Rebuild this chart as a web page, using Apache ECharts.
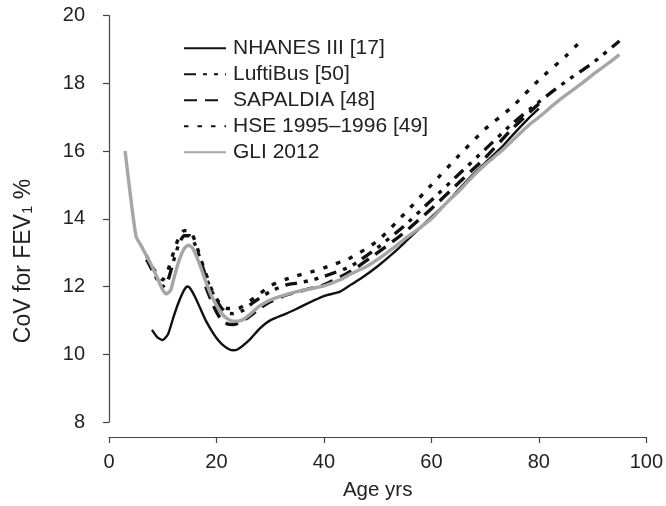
<!DOCTYPE html>
<html>
<head>
<meta charset="utf-8">
<script src="https://cdn.jsdelivr.net/npm/echarts@6/dist/echarts.min.js"></script>
<style>html,body{margin:0;padding:0;background:#fff}#c{width:666px;height:506px}</style>
</head>
<body>
<div id="c"></div>
<script>
var seriesNames = ['NHANES III [17]', 'LuftiBus [50]', 'SAPALDIA [48]', 'HSE 1995\u20131996 [49]', 'GLI 2012'];

var nhanesAges = [8, 9, 10, 11, 12, 13, 14, 14.6, 15, 16, 17, 18, 19, 20, 21, 22, 23, 24, 26, 28, 30, 33, 35, 38, 40, 43, 45, 47, 50, 53, 55, 58, 60, 63, 65, 68, 70, 73, 75, 78, 80];
var nhanesVals = [10.72, 10.5, 10.42, 10.6, 11.1, 11.55, 11.9, 12.0, 11.97, 11.7, 11.35, 11.0, 10.72, 10.48, 10.3, 10.18, 10.12, 10.15, 10.4, 10.75, 11.0, 11.2, 11.35, 11.58, 11.72, 11.85, 12.05, 12.25, 12.6, 13.0, 13.3, 13.75, 14.05, 14.5, 14.85, 15.35, 15.65, 16.1, 16.45, 16.95, 17.25];

var luftiAges = [7, 8, 9, 10, 11, 12, 13, 14, 15, 16, 17, 18, 19, 20, 21, 22, 23, 25, 27, 30, 33, 35, 38, 40, 45, 50, 55, 60, 65, 70, 75, 80, 85, 90, 95];
var luftiVals = [12.8, 12.5, 12.2, 12.0, 12.2, 12.75, 13.25, 13.5, 13.5, 13.25, 12.8, 12.3, 11.9, 11.6, 11.35, 11.22, 11.2, 11.3, 11.55, 11.85, 12.05, 12.1, 12.2, 12.3, 12.6, 13.15, 13.8, 14.55, 15.3, 16.05, 16.8, 17.45, 18.05, 18.6, 19.25];

var sapaldiaAges = [18, 19, 20, 21, 22, 23, 24, 26, 28, 30, 33, 36, 40, 45, 50, 55, 60, 65, 70, 75, 80];
var sapaldiaVals = [12.0, 11.6, 11.25, 11.0, 10.9, 10.88, 10.92, 11.1, 11.35, 11.55, 11.75, 11.88, 12.05, 12.45, 13.0, 13.6, 14.3, 15.05, 15.8, 16.65, 17.4];

var hseAges = [7, 8, 9, 10, 11, 12, 13, 14, 15, 16, 17, 18, 19, 20, 21, 22, 24, 26, 28, 30, 33, 35, 38, 40, 45, 50, 55, 60, 65, 70, 75, 80, 85, 87.5];
var hseVals = [12.9, 12.6, 12.35, 12.2, 12.5, 13.0, 13.45, 13.65, 13.65, 13.35, 12.85, 12.4, 11.95, 11.65, 11.42, 11.35, 11.35, 11.55, 11.78, 12.02, 12.22, 12.32, 12.45, 12.55, 12.85, 13.35, 14.15, 15.0, 15.85, 16.65, 17.3, 18.1, 18.8, 19.2];

var gliAges = [3, 5, 6, 7, 8, 9, 10, 10.7, 11.5, 12, 13, 14, 14.8, 15.5, 16, 17, 18, 19, 20, 21, 22, 23, 24, 25, 26, 28, 30, 32, 35, 38, 40, 43, 45, 48, 50, 53, 55, 58, 60, 63, 65, 68, 70, 73, 75, 78, 80, 83, 85, 88, 90, 93, 95];
var gliVals = [16.0, 13.5, 13.2, 12.9, 12.6, 12.25, 11.9, 11.78, 11.9, 12.2, 12.75, 13.12, 13.22, 13.15, 13.0, 12.6, 12.15, 11.75, 11.45, 11.2, 11.05, 10.98, 10.98, 11.03, 11.15, 11.42, 11.6, 11.72, 11.85, 11.95, 12.02, 12.2, 12.37, 12.6, 12.8, 13.15, 13.4, 13.75, 14.0, 14.5, 14.8, 15.3, 15.6, 16.0, 16.3, 16.75, 17.0, 17.4, 17.65, 18.0, 18.25, 18.6, 18.85];

var xTicks = [0, 20, 40, 60, 80, 100];
var yTicks = [8, 10, 12, 14, 16, 18, 20];

function pairs(a, v) { return a.map(function (x, i) { return [x, v[i]]; }); }

var FONT = '"Liberation Sans", Arial, sans-serif';
var chart = echarts.init(document.getElementById('c'), null, { renderer: 'canvas' });

function mk(name, data, color, width, type) {
  return {
    name: name, type: 'line', data: data, symbol: 'none', showSymbol: false,
    smooth: 0.2,
    lineStyle: { color: color, width: width, type: type, cap: 'butt', join: 'round' },
    itemStyle: { color: color },
    emphasis: { disabled: true }, animation: false, z: 2
  };
}

chart.setOption({
  animation: false,
  backgroundColor: '#fff',
  grid: { left: 109, right: 18, top: 15.6, bottom: 78, containLabel: false },
  xAxis: {
    type: 'value', min: xTicks[0], max: xTicks[xTicks.length - 1], interval: 20, offset: 15,
    name: 'Age yrs', nameLocation: 'middle', nameGap: 43,
    nameTextStyle: { fontFamily: FONT, fontSize: 20.5, color: '#222' },
    axisLine: { show: true, lineStyle: { color: '#444', width: 1.2 } },
    axisTick: { show: true, inside: false, length: 6, lineStyle: { color: '#444', width: 1.2 } },
    axisLabel: { fontFamily: FONT, fontSize: 20, color: '#222', margin: 15 },
    splitLine: { show: false }
  },
  yAxis: {
    type: 'value', min: yTicks[0], max: yTicks[yTicks.length - 1], interval: 2, offset: 15,
    axisLine: { show: true, lineStyle: { color: '#444', width: 1.2 } },
    axisTick: { show: true, inside: false, length: 6, lineStyle: { color: '#444', width: 1.2 } },
    axisLabel: { fontFamily: FONT, fontSize: 20, color: '#222', margin: 9 },
    splitLine: { show: false }
  },
  legend: {
    orient: 'vertical', left: 183, top: 35.3, padding: 0,
    itemWidth: 42, itemHeight: 14, itemGap: 0,
    data: seriesNames,
    itemStyle: { opacity: 0 },
    textStyle: { fontFamily: FONT, fontSize: 21, color: '#222', lineHeight: 26, padding: [0, 0, 0, 2] },
    selectedMode: false
  },
  graphic: [{
    type: 'text', x: 22, y: 261, rotation: Math.PI / 2,
    style: {
      text: '{a|CoV for FEV}{s|1}{a| %}', textAlign: 'center', textVerticalAlign: 'middle',
      rich: {
        a: { fontFamily: FONT, fontSize: 23, fill: '#222', verticalAlign: 'bottom', lineHeight: 26 },
        s: { fontFamily: FONT, fontSize: 15, fill: '#222', verticalAlign: 'bottom', lineHeight: 21 }
      }
    }
  }],
  series: [
    mk(seriesNames[0], pairs(nhanesAges, nhanesVals), '#111', 2.4, 'solid'),
    mk(seriesNames[1], pairs(luftiAges, luftiVals), '#111', 3.4, [12, 7, 4, 7, 4, 7]),
    mk(seriesNames[2], pairs(sapaldiaAges, sapaldiaVals), '#111', 3.4, [13, 8]),
    mk(seriesNames[3], pairs(hseAges, hseVals), '#111', 3.4, [4.5, 9]),
    mk(seriesNames[4], pairs(gliAges, gliVals), '#a6a6a6', 3.4, 'solid')
  ]
});
</script>
</body>
</html>
